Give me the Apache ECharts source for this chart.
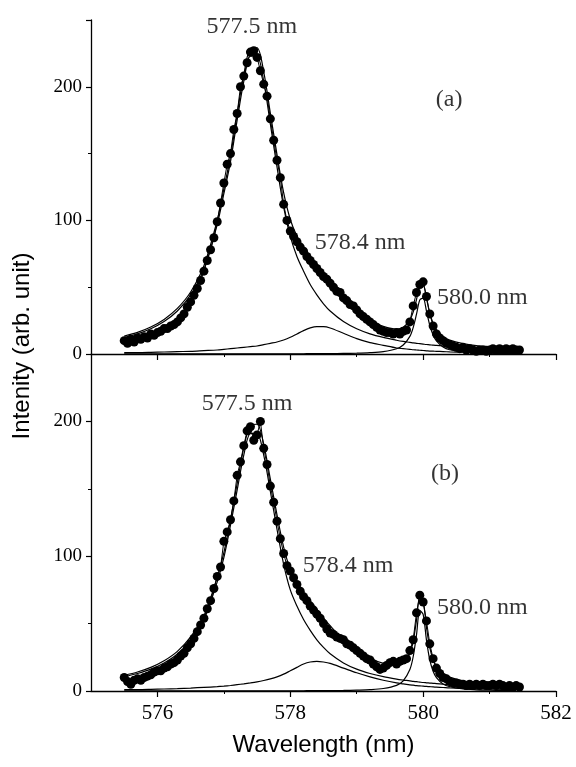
<!DOCTYPE html>
<html>
<head>
<meta charset="utf-8">
<title>Emission spectra fit</title>
<script src="https://cdn.jsdelivr.net/npm/echarts@6/dist/echarts.min.js"></script>
<style>
  html, body { margin: 0; padding: 0; background: #fff; }
  #chart { width: 576px; height: 767px; }
</style>
</head>
<body>
<div id="chart"></div>
<script>
// measured wavelengths (nm), shared by both spectra
const wl = [
  575.50, 575.55, 575.60, 575.65, 575.70, 575.75, 575.80, 575.85, 575.90, 575.95,
  576.00, 576.05, 576.10, 576.15, 576.20, 576.25, 576.30, 576.35, 576.40, 576.45,
  576.50, 576.55, 576.60, 576.65, 576.70, 576.75, 576.80, 576.85, 576.90, 576.95,
  577.00, 577.05, 577.10, 577.15, 577.20, 577.25, 577.30, 577.35, 577.40, 577.45,
  577.50, 577.55, 577.60, 577.65, 577.70, 577.75, 577.80, 577.85, 577.90, 577.95,
  578.00, 578.05, 578.10, 578.15, 578.20, 578.25, 578.30, 578.35, 578.40, 578.45,
  578.50, 578.55, 578.60, 578.65, 578.70, 578.75, 578.80, 578.85, 578.90, 578.95,
  579.00, 579.05, 579.10, 579.15, 579.20, 579.25, 579.30, 579.35, 579.40, 579.45,
  579.50, 579.55, 579.60, 579.65, 579.70, 579.75, 579.80, 579.85, 579.90, 579.95,
  580.00, 580.05, 580.10, 580.15, 580.20, 580.25, 580.30, 580.35, 580.40, 580.45,
  580.50, 580.55, 580.60, 580.65, 580.70, 580.75, 580.80, 580.85, 580.90, 580.95,
  581.00, 581.05, 581.10, 581.15, 581.20, 581.25, 581.30, 581.35, 581.40, 581.45
];

// measured intensity, panel (a)
const measA = [
  10, 8, 11, 9, 12, 11, 13, 12, 15, 14,
  16, 17, 19, 19, 21, 22, 24, 27, 30, 35,
  39, 44, 49, 55, 62, 70, 78, 87, 99, 113,
  128, 142, 150, 168, 180, 200, 208, 218, 226, 227,
  222, 212, 202, 193, 176, 160, 145, 132, 112, 100,
  92, 88, 84, 80, 77, 73, 70, 67, 64, 61,
  58, 56, 53, 50, 47, 46, 42, 40, 37, 36,
  33, 30, 28, 26, 24, 22, 20, 18, 17, 16,
  16, 15, 16, 15, 17, 18, 24, 36, 46, 52,
  54, 43, 30, 21, 15, 12, 10, 8, 7, 6,
  5, 4, 5, 3, 4, 3, 2, 3, 3, 2,
  3, 4, 3, 4, 3, 4, 3, 4, 3, 3
];

// measured intensity, panel (b)
const measB = [
  10, 7, 5, 8, 9, 8, 10, 11, 12, 14,
  15, 15, 17, 18, 20, 21, 23, 26, 28, 32,
  35, 39, 44, 49, 54, 61, 67, 76, 85, 92,
  111, 118, 127, 141, 160, 170, 182, 193, 196, 186,
  190, 200, 180, 168, 152, 140, 126, 113, 102, 93,
  89, 84, 79, 74, 70, 67, 63, 60, 57, 54,
  50, 46, 43, 42, 40, 39, 38, 35, 34, 32,
  30, 28, 26, 24, 23, 20, 18, 16, 17, 19,
  21, 22, 20, 22, 23, 24, 30, 38, 58, 71,
  66, 52, 35, 24, 17, 13, 10, 9, 7, 6,
  6, 5, 5, 4, 5, 4, 5, 4, 5, 4,
  4, 5, 4, 5, 4, 3, 4, 3, 4, 3
];

// wavelengths where the fitted curves are read
const fitWl = [
  575.5, 575.7, 575.9, 576.1, 576.3, 576.5, 576.7, 576.9,
  577.0, 577.1, 577.2, 577.3, 577.4, 577.5,
  577.6, 577.7, 577.8, 577.9, 578.0, 578.1, 578.2, 578.3,
  578.4, 578.5, 578.6, 578.8, 579.0, 579.2, 579.4,
  579.6, 579.7, 579.8, 579.85, 579.9, 579.95, 580.0, 580.05, 580.1, 580.15, 580.2,
  580.3, 580.4, 580.6, 580.8, 581.0, 581.2, 581.4
];

// panel (a) fit components
const fitA577 = [
  12.4, 15.1, 18.9, 24.3, 32.2, 44.3, 63.4, 97,
  120, 144, 175, 204, 223, 223,
  204, 172, 140, 110, 88, 73, 62, 52,
  44.3, 37.6, 32.2, 24.3, 18.9, 15.1, 12.4,
  10.3, 9.4, 8.7, 8.3, 8.0, 7.7, 7.4, 7.1, 6.9, 6.6, 6.4,
  6.0, 5.6, 4.9, 4.3, 3.9, 3.5, 3.1
];
const fitA578 = [
  1, 1, 1.2, 1.5, 1.8, 2, 2.5, 3,
  3.5, 4, 4.5, 5, 5.5, 6,
  7, 8, 9, 10.5, 12.5, 15, 17.5, 19.5,
  20.5, 20.5, 19.5, 15.5, 11.5, 8.5, 6.5,
  4.5, 4, 3.5, 3.2, 3, 2.8, 2.6, 2.4, 2.2, 2.1, 2,
  1.8, 1.6, 1.3, 1.1, 1, 0.9, 0.8
];
const fitA580 = [
  0.1, 0.1, 0.1, 0.1, 0.1, 0.1, 0.1, 0.1,
  0.1, 0.1, 0.1, 0.1, 0.1, 0.1,
  0.1, 0.2, 0.2, 0.2, 0.2, 0.2, 0.2, 0.3,
  0.3, 0.3, 0.3, 0.4, 0.6, 1.0, 1.8,
  3.9, 6.7, 13.2, 19.8, 29.8, 40.5, 41.8, 32.1, 21.5, 14.3, 9.9,
  5.3, 3.2, 1.6, 0.9, 0.6, 0.4, 0.3
];
const fitAsum = [
  13.5, 16.2, 20.2, 25.9, 34.1, 46.4, 66, 100.1,
  123.6, 148.1, 179.6, 209.1, 228.6, 229.1,
  211.1, 180.2, 149.2, 120.7, 100.7, 88.2, 79.7, 71.8,
  65.1, 58.4, 52, 40.2, 31, 24.6, 20.7,
  18.7, 20.1, 25.4, 31.3, 40.8, 51, 51.8, 41.6, 30.6, 23, 18.3,
  13.1, 10.4, 7.8, 6.3, 5.5, 4.8, 4.2
];

// panel (b) fit components
const fitB577 = [
  10.6, 13, 16.2, 20.8, 27.5, 37.8, 53, 81,
  99, 123, 149, 175, 191, 191,
  175, 148, 120, 94, 75, 63, 53, 45,
  38, 32.3, 27.6, 20.8, 16.2, 13, 10.6,
  8.8, 8.1, 7.5, 7.1, 6.9, 6.6, 6.3, 6.1, 5.9, 5.7, 5.5,
  5.1, 4.8, 4.2, 3.7, 3.3, 3.0, 2.7
];
const fitB578 = [
  1, 1, 1.2, 1.5, 1.8, 2.2, 2.7, 3.2,
  3.6, 4.1, 4.7, 5.3, 6, 6.8,
  7.8, 9, 10.5, 12.5, 15, 17.5, 20, 21.5,
  22, 21.5, 20.5, 17, 13.5, 10.5, 8,
  6, 5.3, 4.6, 4.3, 4, 3.8, 3.6, 3.4, 3.2, 3, 2.9,
  2.6, 2.3, 1.9, 1.6, 1.4, 1.2, 1.1
];
const fitB580 = [
  0.1, 0.1, 0.1, 0.1, 0.1, 0.1, 0.1, 0.1,
  0.1, 0.1, 0.1, 0.1, 0.1, 0.1,
  0.1, 0.2, 0.2, 0.2, 0.2, 0.2, 0.2, 0.3,
  0.3, 0.3, 0.3, 0.4, 0.65, 1.0, 1.85,
  4.2, 7.5, 15.9, 25.4, 41.6, 59.6, 56.9, 37.8, 23, 14.6, 9.9,
  5.2, 3.2, 1.5, 0.9, 0.6, 0.4, 0.3
];
const fitBsum = [
  11.7, 14.1, 17.5, 22.4, 29.4, 40.1, 55.8, 84.3,
  102.7, 127.2, 153.8, 180.4, 197.1, 197.9,
  182.9, 157.2, 130.7, 106.7, 90.2, 80.7, 73.2, 66.8,
  60.3, 54.1, 48.4, 38.2, 30.35, 24.5, 20.45,
  19, 20.9, 28, 36.8, 52.5, 70, 66.8, 47.3, 32.1, 23.3, 18.3,
  12.9, 10.3, 7.6, 6.2, 5.3, 4.6, 4.1
];

// axis ticks
const xMajor = [576, 578, 580, 582];
const xMinor = [577, 579, 581];
const yMajor = [0, 100, 200];
const yMinor = [50, 150];

// peak labels and panel tags
const peakNames = ['577.5 nm', '578.4 nm', '580.0 nm'];
const panelTags = ['(a)', '(b)'];
// where the labels sit, in data units [wavelength, intensity]
const labelPosA = [[577.42, 245], [579.05, 83.6], [580.89, 42.5], [580.39, 190]];
const labelPosB = [[577.35, 213], [578.87, 92.6], [580.89, 61.5], [580.33, 161.5]];

const SERIF = '"Liberation Serif", "DejaVu Serif", serif';
const SANS = '"Liberation Sans", Arial, sans-serif';
const black = '#000';

const pairs = (xs, ys) => xs.map((x, i) => [x, ys[i]]);

function xAxes(grid, withLabels) {
  return [
    {
      gridIndex: grid, type: 'value', position: 'bottom', min: 575, max: 582, interval: 1,
      axisLine: { show: true, lineStyle: { color: black, width: 1.3 } },
      axisTick: { show: true, customValues: xMajor, length: 6, lineStyle: { color: black, width: 1.2 } },
      axisLabel: {
        show: withLabels, customValues: xMajor, margin: 12,
        fontFamily: SERIF, fontSize: 21, color: black
      },
      splitLine: { show: false },
      name: withLabels ? 'Wavelength (nm)' : '',
      nameLocation: 'middle', nameGap: 42,
      nameTextStyle: { fontFamily: SANS, fontSize: 24, color: black }
    },
    {
      // short ticks at the odd wavelengths
      gridIndex: grid, type: 'value', position: 'bottom', offset: 0, min: 575, max: 582, interval: 1,
      axisLine: { show: false },
      axisTick: { show: true, customValues: xMinor, length: 3, lineStyle: { color: black, width: 1 } },
      axisLabel: { show: false },
      splitLine: { show: false }
    }
  ];
}

function yAxes(grid, tickVals) {
  return [
    {
      gridIndex: grid, type: 'value', position: 'left', min: 0, max: 250, interval: 50,
      axisLine: { show: true, lineStyle: { color: black, width: 1.3 } },
      axisTick: { show: true, customValues: tickVals, length: 5, lineStyle: { color: black, width: 1.2 } },
      axisLabel: {
        customValues: yMajor, margin: 9,
        fontFamily: SERIF, fontSize: 19, color: black
      },
      splitLine: { show: false }
    },
    {
      // short ticks at 50 and 150
      gridIndex: grid, type: 'value', position: 'left', offset: 0, min: 0, max: 250, interval: 50,
      axisLine: { show: false },
      axisTick: { show: true, customValues: yMinor, length: 3, lineStyle: { color: black, width: 1 } },
      axisLabel: { show: false },
      splitLine: { show: false }
    }
  ];
}

function panelSeries(xi, yi, meas, comps, sum, labelPos, tag) {
  const fitLine = (ys) => ({
    type: 'line', xAxisIndex: xi, yAxisIndex: yi,
    data: pairs(fitWl, ys), smooth: 0.3, showSymbol: false,
    lineStyle: { color: black, width: 1.2 }, z: 3
  });
  const labels = peakNames.map((t, i) => [labelPos[i][0], labelPos[i][1], t]);
  labels.push([labelPos[3][0], labelPos[3][1], tag]);
  return [
    {
      type: 'line', xAxisIndex: xi, yAxisIndex: yi,
      data: pairs(wl, meas), symbol: 'circle', symbolSize: 9, showSymbol: true,
      itemStyle: { color: black }, lineStyle: { color: black, width: 1 }, z: 2
    },
    ...comps.map(fitLine),
    fitLine(sum),
    {
      type: 'scatter', xAxisIndex: xi, yAxisIndex: yi,
      data: labels, symbolSize: 1, itemStyle: { color: 'transparent' },
      label: {
        show: true, position: 'inside', formatter: p => p.data[2],
        fontFamily: SERIF, fontSize: 24, color: black
      },
      z: 5
    }
  ];
}

const chart = echarts.init(document.getElementById('chart'), null, { renderer: 'canvas' });

chart.setOption({
  animation: false,
  backgroundColor: '#fff',
  grid: [
    { left: 91, top: 20, width: 465, height: 334 },
    { left: 91, top: 354, width: 465, height: 337 }
  ],
  xAxis: [...xAxes(0, false), ...xAxes(1, true)],
  yAxis: [...yAxes(0, [0, 100, 200, 250]), ...yAxes(1, yMajor)],
  graphic: [{
    type: 'text', x: 22, y: 346, rotation: Math.PI / 2,
    style: {
      text: 'Intenity (arb. unit)', font: '24px ' + SANS, fill: black,
      textAlign: 'center', textVerticalAlign: 'middle'
    }
  }],
  series: [
    ...panelSeries(0, 0, measA, [fitA577, fitA578, fitA580], fitAsum, labelPosA, panelTags[0]),
    ...panelSeries(2, 2, measB, [fitB577, fitB578, fitB580], fitBsum, labelPosB, panelTags[1])
  ]
});
</script>
</body>
</html>
